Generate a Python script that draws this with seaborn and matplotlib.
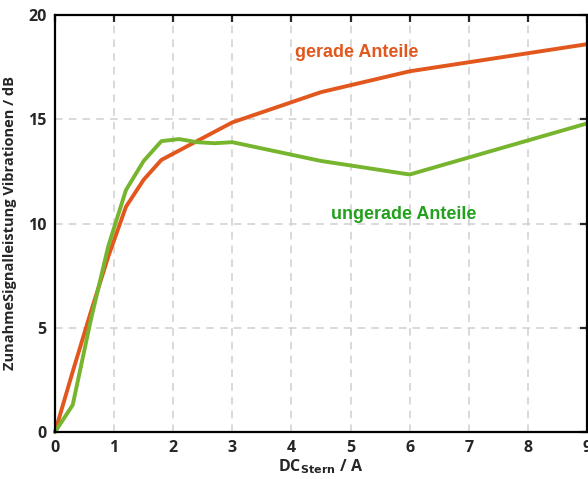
import numpy as np
import pandas as pd
import seaborn as sns
import matplotlib.pyplot as plt

# DC current (A) and increase of vibration signal power (dB)
x_gerade = [0, 0.3, 0.6, 0.9, 1.2, 1.5, 1.8, 2.1, 2.4, 2.7, 3.0, 4.5, 6.0, 9.0]
y_gerade = [0, 2.9, 5.7, 8.4, 10.8, 12.1, 13.05, 13.5, 13.95, 14.4, 14.85, 16.3, 17.3, 18.6]
x_ungerade = [0, 0.3, 0.6, 0.9, 1.2, 1.5, 1.8, 2.1, 2.4, 2.7, 3.0, 4.5, 6.0, 9.0]
y_ungerade = [0, 1.3, 5.3, 8.9, 11.6, 13.0, 13.95, 14.05, 13.9, 13.85, 13.9, 13.0, 12.35, 14.8]
x_ticks = [0, 1, 2, 3, 4, 5, 6, 7, 8, 9]
y_ticks = [0, 5, 10, 15, 20]

orange = '#E2571E'
green = '#77B52F'

df = pd.concat([
    pd.DataFrame({'dc': x_gerade, 'db': y_gerade, 'teil': 'gerade'}),
    pd.DataFrame({'dc': x_ungerade, 'db': y_ungerade, 'teil': 'ungerade'}),
])

sns.set_style('white')
plt.rcParams['font.family'] = ['Open Sans', 'DejaVu Sans']

fig = plt.figure(figsize=(5.88, 4.79), dpi=100)
ax = fig.add_axes([55 / 588, 47 / 479, 532 / 588, 417 / 479])

sns.lineplot(data=df, x='dc', y='db', hue='teil', palette={'gerade': orange, 'ungerade': green},
             linewidth=2.8, legend=False, ax=ax, sort=False, clip_on=False)

ax.set_xlim(0, 9)
ax.set_ylim(0, 20)
ax.set_xticks(x_ticks)
ax.set_yticks(y_ticks)
ax.grid(True, color='#d0d0d0', linestyle=(0, (5, 4)), linewidth=1.1)
ax.set_axisbelow(True)
for s in ax.spines.values():
    s.set_color('black')
    s.set_linewidth(1.6)
ax.tick_params(direction='in', length=5, width=1.6, top=True, right=True, pad=6)
for lab in ax.get_xticklabels() + ax.get_yticklabels():
    lab.set_fontweight('bold')
    lab.set_fontsize(11.5)

ax.set_xlabel(r'DC$_{\mathbf{Stern}}$ / A', fontsize=11.5, fontweight='bold', labelpad=1)
ax.set_ylabel('ZunahmeSignalleistung Vibrationen / dB', fontsize=10.5, fontweight='bold', labelpad=8)

ax.text(5.1, 18.2, 'gerade Anteile', color=orange, fontsize=13, fontweight='bold',
        ha='center', va='center', family='Liberation Sans')
ax.text(5.9, 10.45, 'ungerade Anteile', color='#23A01E', fontsize=13, fontweight='bold',
        ha='center', va='center', family='Liberation Sans')

fig.savefig('out.png', dpi=100)
